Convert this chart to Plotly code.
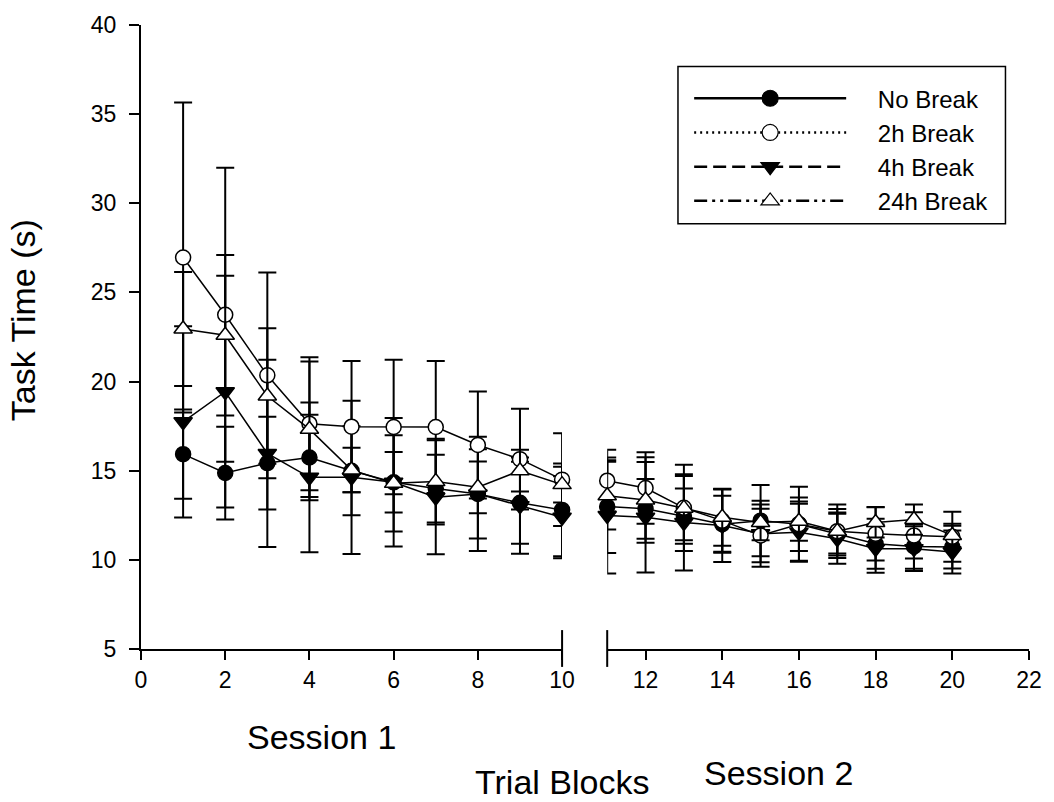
import plotly.graph_objects as go

# ---------------- data ----------------
blocks_s1 = [1, 2, 3, 4, 5, 6, 7, 8, 9, 10]
blocks_s2 = [11, 12, 13, 14, 15, 16, 17, 18, 19, 20]

no_break = [15.93, 14.87, 15.43, 15.74, 15.0, 14.35, 14.0, 13.7, 13.2, 12.8,
            12.99, 12.86, 12.45, 12.0, 12.2, 12.0, 11.45, 10.9, 10.75, 10.72]
no_break_err = [2.5, 2.6, 2.6, 2.4, 2.5, 1.7, 1.9, 2.5, 2.3, 2.6,
                2.6, 1.67, 1.55, 1.6, 2.0, 1.5, 1.2, 1.4, 1.25, 1.2]

h2_break = [26.96, 23.75, 20.35, 17.64, 17.47, 17.45, 17.45, 16.44, 15.65, 14.5,
            14.44, 14.03, 12.92, 12.2, 11.37, 12.0, 11.61, 11.46, 11.37, 11.3]
h2_break_err = [8.7, 8.25, 5.77, 3.73, 3.68, 3.77, 3.7, 3.0, 2.83, 2.6,
                1.73, 2.0, 2.42, 1.75, 1.5, 2.1, 1.5, 1.5, 1.3, 1.4]

h4_break = [17.74, 19.43, 15.97, 14.63, 14.63, 14.35, 13.51, 13.7, 13.04, 12.39,
            12.49, 12.39, 12.1, 11.93, 11.46, 11.55, 11.18, 10.63, 10.63, 10.44]
h4_break_err = [5.36, 6.5, 5.25, 4.2, 4.3, 3.6, 3.2, 3.2, 2.7, 2.3,
                3.25, 3.1, 2.7, 2.05, 1.85, 1.6, 1.4, 1.35, 1.25, 1.2]

h24_break = [22.95, 22.6, 19.19, 17.33, 15.04, 14.29, 14.39, 14.07, 15.0, 14.22,
             13.6, 13.36, 12.9, 12.39, 12.1, 12.17, 11.6, 12.1, 12.26, 11.37]
h24_break_err = [3.2, 4.5, 3.8, 3.8, 1.25, 2.7, 2.4, 1.45, 1.17, 1.0,
                 1.9, 2.4, 1.8, 1.6, 1.0, 1.1, 1.25, 0.85, 0.85, 0.65]

series_names = ["No Break", "2h Break", "4h Break", "24h Break"]
x_ticks_s1 = [0, 2, 4, 6, 8, 10]
x_ticks_s2 = [12, 14, 16, 18, 20, 22]
y_ticks = [5, 10, 15, 20, 25, 30, 35, 40]

# ---------------- styling ----------------
FONT = "Liberation Sans, Arial, sans-serif"
styles = {
    "No Break": dict(symbol="circle", size=15, fill="black", dash="solid"),
    "2h Break": dict(symbol="circle", size=15, fill="white", dash="2px,4px"),
    "4h Break": dict(symbol="triangle-down", size=16, fill="black", dash="13px,6px"),
    "24h Break": dict(symbol="triangle-up", size=16, fill="white",
                      dash="13px,5px,3px,5px,3px,5px"),
}
data = {
    "No Break": (no_break, no_break_err),
    "2h Break": (h2_break, h2_break_err),
    "4h Break": (h4_break, h4_break_err),
    "24h Break": (h24_break, h24_break_err),
}

fig = go.Figure()
n1 = len(blocks_s1)
draw_order = ["No Break", "4h Break", "2h Break", "24h Break"]
for name in draw_order:
    vals, errs = data[name]
    st = styles[name]
    for xs, v, e, xa in [(blocks_s1, vals[:n1], errs[:n1], "x"),
                         (blocks_s2, vals[n1:], errs[n1:], "x2")]:
        fig.add_trace(go.Scatter(
            x=xs, y=v, xaxis=xa, yaxis="y", mode="lines+markers",
            showlegend=False, name=name,
            line=dict(color="black", width=1.5),
            marker=dict(symbol=st["symbol"], size=st["size"], color=st["fill"],
                        line=dict(color="black", width=1.5)),
            error_y=dict(type="data", array=e, visible=True, color="black",
                         thickness=2, width=9),
            cliponaxis=False,
        ))

# legend-only traces (the legend shows each series' line style)
PAD = "\u00a0" * 4
for name in series_names:
    st = styles[name]
    fig.add_trace(go.Scatter(
        x=[None], y=[None], xaxis="x", yaxis="y", mode="lines+markers",
        name=PAD + name, legendgroup=name, showlegend=True,
        line=dict(color="black", width=2.5, dash=st["dash"]),
        marker=dict(symbol=st["symbol"], size=st["size"] + 4, color=st["fill"],
                    line=dict(color="black", width=1.2)),
    ))

axis_common = dict(
    showline=True, linecolor="black", linewidth=2,
    ticks="outside", tickcolor="black", tickwidth=2, ticklen=9,
    showgrid=False, zeroline=False,
    tickfont=dict(family=FONT, size=23, color="black"),
)

fig.update_layout(
    width=1054, height=802,
    margin=dict(l=141, r=18, t=22, b=153),
    paper_bgcolor="white", plot_bgcolor="white",
    font=dict(family=FONT, color="black"),
    xaxis=dict(domain=[0, 0.4742], range=[0, 10], tickvals=x_ticks_s1,
               anchor="y", **axis_common),
    xaxis2=dict(domain=[0.525, 1], range=[11, 22], tickvals=x_ticks_s2,
                anchor="y", **axis_common),
    yaxis=dict(range=[5, 40], tickvals=y_ticks, ticklabelstandoff=8,
               **{**axis_common, "ticklen": 10}),
    legend=dict(
        x=0.6173, y=0.918, xanchor="left", yanchor="top",
        bgcolor="rgba(0,0,0,0)", borderwidth=0,
        font=dict(family=FONT, size=24, color="black"),
        itemwidth=152, traceorder="grouped", tracegroupgap=0,
        itemclick=False,
    ),
    showlegend=True,
)

shapes = [
    # legend box
    dict(type="rect", xref="paper", yref="paper", x0=0.6047, x1=0.9735,
         y0=0.6813, y1=0.9335, line=dict(color="black", width=1.5),
         fillcolor="rgba(0,0,0,0)"),
    # axis break marks
    dict(type="line", xref="x domain", yref="paper", x0=1, x1=1,
         y0=-0.0287, y1=0.0303, line=dict(color="black", width=2)),
    dict(type="line", xref="x2 domain", yref="paper", x0=0, x1=0,
         y0=-0.0287, y1=0.0303, line=dict(color="black", width=2)),
]
fig.update_layout(shapes=shapes)

TITLE_FONT = dict(family=FONT, size=34, color="black")
annotations = [
    dict(text="Session 1", x=0.2034, y=-0.1404, xref="paper", yref="paper",
         xanchor="center", yanchor="middle", showarrow=False, font=TITLE_FONT),
    dict(text="Session 2", x=0.7176, y=-0.1995, xref="paper", yref="paper",
         xanchor="center", yanchor="middle", showarrow=False, font=TITLE_FONT),
    dict(text="Trial Blocks", x=0.4739, y=-0.2125, xref="paper", yref="paper",
         xanchor="center", yanchor="middle", showarrow=False, font=TITLE_FONT),
    dict(text="Task Time (s)", x=-0.1319, y=0.5266, xref="paper", yref="paper",
         xanchor="center", yanchor="middle", showarrow=False, textangle=-90,
         font=TITLE_FONT),
]
fig.update_layout(annotations=annotations)

fig.write_html("out.html")
